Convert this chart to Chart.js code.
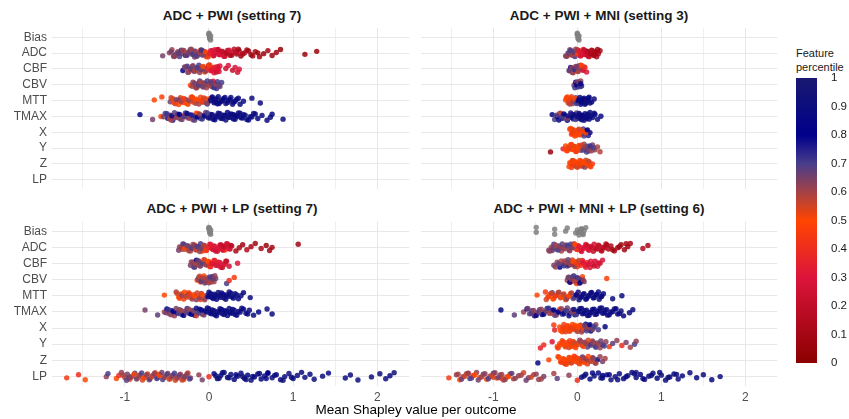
<!DOCTYPE html>
<html>
<head>
<meta charset="utf-8">
<script src="https://cdn.jsdelivr.net/npm/chart.js@4.4.1/dist/chart.umd.min.js"></script>
<style>
  body { margin: 0; background: #fff; font-family: "Liberation Sans", Arial, sans-serif; }
  #page { position: relative; width: 849px; height: 419px; overflow: hidden; }
  canvas { position: absolute; }
  .title { position: absolute; transform: translateX(-50%); white-space: nowrap; font-weight: bold; font-size: 13.5px; line-height: 15px; color: #1a1a1a; }
  .xlab { position: absolute; left: 416px; top: 402px; transform: translateX(-50%); white-space: nowrap; font-size: 13.5px; line-height: 16px; color: #000; }
  .legtitle { position: absolute; left: 796px; top: 46px; font-size: 11px; line-height: 14px; color: #1a1a1a; white-space: nowrap; }
</style>
</head>
<body>
<div id="page">
  <div class="title" id="t0" style="left:232px;top:8px"></div>
  <div class="title" id="t1" style="left:599px;top:8px"></div>
  <div class="title" id="t2" style="left:232px;top:201px"></div>
  <div class="title" id="t3" style="left:599px;top:201px"></div>
  <canvas id="p0" width="412" height="167" style="left:0;top:25px"></canvas>
  <canvas id="p1" width="362" height="167" style="left:418px;top:25px"></canvas>
  <canvas id="p2" width="412" height="187" style="left:0;top:219px"></canvas>
  <canvas id="p3" width="362" height="187" style="left:418px;top:219px"></canvas>
  <div class="xlab">Mean Shapley value per outcome</div>
  <div class="legtitle">Feature<br>percentile</div>
  <canvas id="bar" width="53" height="305" style="left:796px;top:70px"></canvas>
</div>
<script>
// rows (top to bottom) and panel titles
const features = ['Bias', 'ADC', 'CBF', 'CBV', 'MTT', 'TMAX', 'X', 'Y', 'Z', 'LP'];
const panelTitles = ['ADC + PWI (setting 7)', 'ADC + PWI + MNI (setting 3)',
  'ADC + PWI + LP (setting 7)', 'ADC + PWI + MNI + LP (setting 6)'];
const xTicks = [-1.5, -1, -0.5, 0, 0.5, 1, 1.5, 2];
const legendTicks = [0, 0.1, 0.2, 0.3, 0.4, 0.5, 0.6, 0.7, 0.8, 0.9, 1];

// points are [shapley value, feature percentile]; bias has no percentile

// --- ADC + PWI (setting 7)
const pwiBias = [0, 0.01, 0, 0.02, 0.01, 0, 0.01, 0.02];
const pwiADC = [[-0.55,.65],[-0.47,.62],[-0.44,.6],[-0.4,.68],[-0.37,.6],[-0.35,.7],[-0.32,.65],[-0.3,.62],[-0.28,.75],[-0.25,.6],[-0.22,.68],[-0.2,.62],[-0.18,.72],[-0.15,.6],[-0.12,.65],[-0.1,.55],[-0.08,.68],[-0.05,.6],[-0.03,.45],[0,.4],[0.02,.3],[0.05,.35],[0.08,.25],[0.1,.3],[0.12,.2],[0.15,.28],[0.18,.15],[0.2,.25],[0.22,.2],[0.25,.12],[0.28,.3],[0.3,.18],[0.33,.1],[0.36,.22],[0.38,.08],[0.42,.15],[0.45,.1],[0.5,.05],[0.55,.12],[0.6,.08],[0.65,.05],[0.7,.1],[0.75,.06],[0.8,.08],[0.85,.05],[1.14,.05],[1.28,.05],[-0.42,.7],[-0.38,.64],[-0.33,.72],[-0.27,.6],[-0.23,.7],[-0.17,.66],[-0.13,.74],[-0.07,.62],[-0.02,.58],[0.03,.42],[0.07,.32],[0.13,.28],
  [-0.45,.66],[-0.41,.62],[-0.36,.68],[-0.31,.6],[-0.26,.7],[-0.24,.64],[-0.21,.6],[-0.19,.7],[-0.16,.62],[-0.14,.68],[-0.11,.6],[-0.09,.72],[-0.06,.64],[-0.04,.5],[-0.01,.45],[0.01,.35],[0.04,.3],[0.06,.25],[0.09,.3],[0.11,.22],[0.14,.3],[0.16,.2],[0.19,.28],[0.21,.15],[0.24,.25],[0.27,.12],[0.32,.2],[0.35,.1],[0.4,.12],[0.47,.08],[0.52,.1],[0.58,.06]];
const pwiCBF = [[-0.31,.8],[-0.28,.62],[-0.25,.65],[-0.22,.7],[-0.2,.6],[-0.18,.68],[-0.15,.62],[-0.12,.7],[-0.1,.64],[-0.08,.6],[-0.05,.5],[-0.03,.66],[-0.01,.45],[0.02,.35],[0.04,.3],[0.06,.28],[0.08,.32],[0.1,.25],[0.12,.3],[0.2,.25],[0.23,.3],[0.28,.22],[0.31,.28],[0.34,.25],[0.36,.3],[-0.26,.72],[-0.16,.58],[-0.06,.7],[0,.55],[0.05,.4],
  [-0.29,.65],[-0.24,.6],[-0.21,.68],[-0.19,.64],[-0.17,.6],[-0.14,.7],[-0.11,.62],[-0.09,.66],[-0.07,.5],[-0.04,.62],[-0.02,.4],[0.01,.45],[0.03,.3],[0.07,.35],[0.09,.25],[0.11,.3],[0.13,.28]];
const pwiCBV = [[-0.22,.5],[-0.19,.62],[-0.16,.68],[-0.13,.6],[-0.11,.7],[-0.08,.62],[-0.06,.72],[-0.03,.6],[-0.01,.66],[0.02,.65],[0.04,.7],[0.07,.62],[0.09,.72],[0.12,.68],[0.15,.7],[-0.14,.55],[0,.58],[0.05,.3],
  [-0.2,.6],[-0.17,.65],[-0.15,.62],[-0.12,.7],[-0.1,.6],[-0.07,.66],[-0.05,.62],[-0.02,.7],[0.01,.6],[0.03,.68],[0.06,.72],[0.08,.62],[0.1,.7],[0.13,.66]];
const pwiMTT = [[-0.65,.5],[-0.56,.48],[-0.46,.65],[-0.43,.5],[-0.4,.6],[-0.37,.45],[-0.34,.55],[-0.31,.5],[-0.28,.62],[-0.25,.48],[-0.22,.55],[-0.19,.5],[-0.16,.6],[-0.13,.45],[-0.1,.52],[-0.07,.65],[-0.04,.5],[-0.02,.7],[0.01,.85],[0.03,.78],[0.06,.9],[0.08,.82],[0.11,.92],[0.14,.85],[0.17,.88],[0.2,.92],[0.23,.86],[0.26,.9],[0.29,.82],[0.33,.92],[0.37,.88],[0.41,.9],[0.51,.9],[0.61,.88],[-0.35,.62],[-0.2,.45],[-0.08,.55],[0,.5],[0.1,.8],[0.15,.95],
  [-0.45,.55],[-0.42,.48],[-0.39,.65],[-0.36,.5],[-0.33,.6],[-0.3,.45],[-0.27,.5],[-0.24,.62],[-0.21,.48],[-0.18,.55],[-0.15,.5],[-0.12,.6],[-0.09,.48],[-0.06,.55],[-0.03,.62],[0.02,.9],[0.04,.85],[0.07,.88],[0.09,.92],[0.12,.86],[0.16,.9],[0.19,.85],[0.22,.9],[0.25,.88],[0.28,.92],[0.31,.86],[0.35,.9]];
const pwiTMAX = [[-0.82,.85],[-0.67,.65],[-0.57,.5],[-0.52,.7],[-0.49,.82],[-0.46,.65],[-0.43,.75],[-0.4,.6],[-0.37,.8],[-0.34,.68],[-0.31,.55],[-0.28,.72],[-0.25,.62],[-0.22,.8],[-0.19,.66],[-0.16,.75],[-0.13,.6],[-0.1,.7],[-0.07,.82],[-0.04,.65],[-0.01,.88],[0.02,.9],[0.05,.85],[0.08,.92],[0.11,.88],[0.14,.9],[0.17,.86],[0.2,.92],[0.23,.88],[0.26,.9],[0.29,.85],[0.32,.92],[0.35,.88],[0.38,.9],[0.41,.86],[0.45,.9],[0.49,.88],[0.53,.92],[0.58,.85],[0.63,.9],[0.69,.88],[0.73,.9],[0.75,.85],[0.88,.88],[-0.3,.45],[-0.15,.5],[0,.7],[0.3,.95],[-0.45,.6],
  [-0.54,.65],[-0.5,.72],[-0.47,.6],[-0.44,.85],[-0.41,.68],[-0.38,.62],[-0.35,.8],[-0.32,.65],[-0.29,.7],[-0.26,.85],[-0.23,.62],[-0.2,.75],[-0.17,.68],[-0.14,.85],[-0.11,.62],[-0.08,.72],[-0.05,.88],[-0.02,.7],[0.01,.9],[0.04,.88],[0.07,.85],[0.1,.9],[0.13,.92],[0.16,.88],[0.19,.9],[0.22,.85],[0.25,.9],[0.28,.88],[0.31,.9],[0.34,.86],[0.37,.92],[0.4,.88],[0.43,.9],[0.47,.86],[0.51,.9],[0.55,.88]];

// --- ADC + PWI + MNI (setting 3)
const mniBias = [0, 0.01, 0, 0.02, 0.01, 0, 0.01, 0.02];
const mniADC = [[-0.14,.65],[-0.11,.7],[-0.09,.6],[-0.07,.68],[-0.05,.62],[-0.03,.72],[-0.01,.6],[0.01,.35],[0.03,.3],[0.05,.25],[0.07,.35],[0.09,.2],[0.11,.3],[0.13,.15],[0.15,.25],[0.17,.1],[0.19,.2],[0.21,.08],[0.23,.15],[0.25,.1],[0.27,.12],[-0.12,.6],[-0.04,.66],[0,.55],[0.06,.32],[0.12,.1],
  [-0.13,.62],[-0.1,.66],[-0.08,.7],[-0.06,.6],[-0.04,.68],[-0.02,.62],[0,.45],[0.02,.32],[0.04,.28],[0.06,.3],[0.08,.22],[0.1,.25],[0.12,.18],[0.14,.2],[0.16,.12],[0.18,.15],[0.2,.1],[0.22,.12],[0.24,.08]];
const mniCBF = [[-0.1,.65],[-0.08,.8],[-0.06,.62],[-0.04,.7],[-0.02,.6],[0,.5],[0.02,.68],[0.04,.3],[0.06,.6],[0.08,.35],[0.11,.3],[-0.05,.75],[0.01,.62],
  [-0.09,.68],[-0.07,.62],[-0.05,.6],[-0.03,.72],[-0.01,.65],[0.01,.6],[0.03,.62],[0.05,.5],[0.07,.3],[0.09,.4]];
const mniCBV = [[-0.04,.65],[-0.02,.8],[0,.7],[0.02,.85],[0.04,.62],[0.05,.75],[-0.01,.6],
  [-0.03,.7],[-0.01,.8],[0.01,.65],[0.03,.72],[0.04,.85]];
const mniMTT = [[-0.14,.5],[-0.12,.45],[-0.1,.55],[-0.08,.5],[-0.06,.6],[-0.04,.48],[-0.02,.65],[0,.8],[0.02,.88],[0.04,.85],[0.06,.9],[0.08,.86],[0.1,.92],[0.12,.88],[0.14,.9],[0.17,.85],[0.2,.9],[-0.09,.62],[0.03,.95],
  [-0.13,.5],[-0.11,.55],[-0.09,.45],[-0.07,.52],[-0.05,.62],[-0.03,.5],[-0.01,.7],[0.01,.85],[0.03,.9],[0.05,.88],[0.07,.85],[0.09,.9],[0.11,.92],[0.13,.86],[0.15,.9]];
const mniTMAX = [[-0.3,.85],[-0.27,.7],[-0.24,.8],[-0.21,.65],[-0.18,.88],[-0.15,.7],[-0.12,.82],[-0.09,.6],[-0.07,.9],[-0.05,.72],[-0.03,.85],[-0.01,.68],[0.01,.9],[0.03,.85],[0.05,.92],[0.07,.88],[0.09,.9],[0.11,.85],[0.13,.92],[0.15,.88],[0.18,.9],[0.21,.85],[0.24,.9],[0.28,.88],[-0.2,.55],[0,.8],
  [-0.25,.68],[-0.22,.85],[-0.19,.7],[-0.16,.82],[-0.13,.65],[-0.11,.9],[-0.08,.75],[-0.06,.85],[-0.04,.9],[-0.02,.7],[0,.92],[0.02,.88],[0.04,.9],[0.06,.85],[0.08,.92],[0.1,.88],[0.12,.9],[0.14,.86],[0.16,.9],[0.2,.88]];
const mniX = [[-0.09,.5],[-0.07,.48],[-0.05,.52],[-0.03,.5],[-0.01,.45],[0.01,.5],[0.03,.55],[0.05,.65],[0.07,.7],[0.09,.62],[0.11,.8],[0.13,.75],[0.15,.85],[-0.06,.55],[0,.52],[0.04,.48],
  [-0.08,.5],[-0.06,.45],[-0.04,.52],[-0.02,.5],[0,.48],[0.02,.55],[0.04,.5],[0.06,.52],[0.08,.7],[0.1,.5],[0.12,.85]];
const mniY = [[-0.32,.05],[-0.17,.35],[-0.14,.5],[-0.12,.48],[-0.1,.52],[-0.08,.5],[-0.06,.45],[-0.04,.55],[-0.02,.5],[0,.6],[0.02,.52],[0.04,.65],[0.06,.7],[0.08,.62],[0.1,.75],[0.12,.68],[0.14,.6],[0.16,.7],[0.18,.65],[0.21,.62],[0.24,.6],[0.27,.58],[-0.09,.4],[0.03,.48],
  [-0.13,.5],[-0.11,.52],[-0.07,.48],[-0.05,.5],[-0.03,.52],[-0.01,.45],[0.01,.5],[0.05,.55],[0.07,.68],[0.09,.62],[0.11,.7],[0.13,.65],[0.15,.72],[0.17,.6],[0.19,.7]];
const mniZ = [[-0.1,.5],[-0.08,.45],[-0.06,.52],[-0.04,.5],[-0.02,.48],[0,.55],[0.02,.85],[0.04,.5],[0.06,.62],[0.08,.5],[0.1,.55],[0.12,.48],[0.14,.6],[0.16,.5],[0.18,.45],[-0.05,.55],[0.03,.4],
  [-0.09,.5],[-0.07,.52],[-0.05,.45],[-0.03,.5],[-0.01,.55],[0.01,.5],[0.03,.48],[0.05,.52],[0.07,.5],[0.09,.62],[0.11,.5],[0.13,.55],[0.15,.48]];

// --- ADC + PWI + LP (setting 7)
const lpBias = [0, 0.01, 0, 0.02, 0.01, 0, 0.01, 0.02];
const lpADC = [[-0.36,.65],[-0.33,.5],[-0.3,.7],[-0.28,.62],[-0.25,.68],[-0.22,.6],[-0.2,.72],[-0.17,.5],[-0.15,.65],[-0.12,.6],[-0.1,.7],[-0.07,.62],[-0.05,.55],[-0.03,.4],[0,.35],[0.02,.3],[0.05,.28],[0.07,.35],[0.1,.25],[0.12,.3],[0.15,.2],[0.17,.28],[0.2,.22],[0.22,.3],[0.25,.15],[0.27,.2],[0.32,.1],[0.36,.12],[0.4,.08],[0.45,.15],[0.5,.1],[0.55,.08],[0.62,.12],[0.68,.05],[0.72,.1],[0.75,.08],[1.06,.08],[-0.32,.62],[-0.18,.7],[-0.08,.5],[0.03,.38],[0.13,.33],[0.19,.5],
  [-0.35,.62],[-0.31,.68],[-0.29,.5],[-0.26,.65],[-0.24,.6],[-0.21,.68],[-0.19,.62],[-0.16,.55],[-0.14,.7],[-0.11,.62],[-0.09,.66],[-0.06,.6],[-0.04,.45],[-0.01,.38],[0.01,.32],[0.04,.28],[0.06,.3],[0.08,.25],[0.11,.3],[0.14,.22],[0.16,.28],[0.18,.2],[0.21,.25],[0.23,.3],[0.26,.18]];
const lpCBF = [[-0.22,.65],[-0.19,.6],[-0.17,.7],[-0.14,.62],[-0.12,.55],[-0.1,.68],[-0.07,.6],[-0.05,.5],[-0.03,.65],[0,.45],[0.02,.35],[0.05,.3],[0.07,.4],[0.1,.28],[0.13,.3],[0.16,.22],[0.19,.3],[0.21,.2],[0.24,.25],[0.34,.3],[-0.15,.8],[-0.02,.5],
  [-0.21,.62],[-0.18,.68],[-0.16,.6],[-0.13,.66],[-0.11,.62],[-0.08,.7],[-0.06,.55],[-0.04,.62],[-0.01,.5],[0.01,.4],[0.03,.3],[0.06,.35],[0.08,.28],[0.11,.32],[0.14,.25],[0.17,.3],[0.2,.22]];
const lpCBV = [[-0.14,.5],[-0.12,.65],[-0.1,.55],[-0.08,.62],[-0.06,.5],[-0.04,.7],[-0.02,.6],[0,.68],[0.02,.62],[0.04,.75],[0.06,.6],[0.08,.65],[0.21,.7],[0.24,.4],[0.3,.45],[-0.03,.45],
  [-0.13,.62],[-0.11,.55],[-0.09,.7],[-0.07,.6],[-0.05,.65],[-0.01,.62],[0.01,.7],[0.03,.6],[0.05,.68],[0.07,.62]];
const lpMTT = [[-0.53,.5],[-0.39,.6],[-0.36,.5],[-0.33,.55],[-0.3,.45],[-0.27,.62],[-0.24,.5],[-0.21,.55],[-0.18,.48],[-0.15,.65],[-0.12,.5],[-0.09,.6],[-0.06,.5],[-0.03,.7],[0,.85],[0.03,.88],[0.06,.9],[0.09,.85],[0.12,.92],[0.15,.88],[0.18,.9],[0.21,.85],[0.24,.92],[0.27,.88],[0.31,.9],[0.35,.86],[0.38,.9],[0.41,.85],[0.49,.88],[-0.25,.7],[-0.1,.45],[0.1,.75],
  [-0.38,.55],[-0.35,.48],[-0.32,.62],[-0.29,.5],[-0.26,.55],[-0.23,.45],[-0.2,.6],[-0.17,.5],[-0.14,.55],[-0.11,.62],[-0.08,.5],[-0.05,.62],[-0.01,.8],[0.02,.9],[0.05,.85],[0.08,.9],[0.11,.88],[0.14,.92],[0.17,.85],[0.2,.9],[0.23,.88],[0.26,.9],[0.29,.86],[0.33,.9]];
const lpTMAX = [[-0.76,.65],[-0.61,.68],[-0.53,.6],[-0.5,.8],[-0.47,.65],[-0.44,.85],[-0.41,.62],[-0.38,.75],[-0.35,.68],[-0.32,.85],[-0.29,.6],[-0.26,.72],[-0.23,.85],[-0.2,.65],[-0.17,.8],[-0.14,.7],[-0.11,.88],[-0.08,.62],[-0.05,.85],[-0.02,.9],[0.01,.88],[0.04,.92],[0.07,.85],[0.1,.9],[0.13,.88],[0.16,.92],[0.19,.86],[0.22,.9],[0.25,.88],[0.28,.85],[0.31,.9],[0.35,.88],[0.39,.9],[0.44,.85],[0.48,.9],[0.53,.88],[0.59,.85],[0.69,.9],[0.75,.88],[-0.35,.5],[-0.15,.55],
  [-0.51,.65],[-0.48,.72],[-0.45,.62],[-0.42,.8],[-0.39,.65],[-0.36,.7],[-0.33,.62],[-0.3,.85],[-0.27,.68],[-0.24,.62],[-0.21,.8],[-0.18,.65],[-0.15,.88],[-0.12,.7],[-0.09,.85],[-0.06,.65],[-0.03,.88],[0,.9],[0.03,.85],[0.06,.9],[0.09,.88],[0.12,.92],[0.15,.86],[0.18,.9],[0.21,.88],[0.24,.9],[0.27,.86],[0.3,.92],[0.33,.88],[0.37,.9],[0.41,.86],[0.46,.9]];
const lpLP = [[-1.69,.45],[-1.55,.4],[-1.47,.5],[-1.22,.62],[-1.2,.7],[-1.1,.5],[-1.07,.4],[-1.04,.62],[-1,.55],[-0.97,.65],[-0.94,.45],[-0.91,.6],[-0.88,.68],[-0.85,.5],[-0.82,.62],[-0.79,.55],[-0.76,.66],[-0.73,.48],[-0.7,.62],[-0.67,.7],[-0.64,.55],[-0.61,.65],[-0.58,.6],[-0.55,.7],[-0.52,.5],[-0.49,.65],[-0.46,.6],[-0.43,.68],[-0.4,.55],[-0.37,.65],[-0.34,.6],[-0.31,.7],[-0.28,.62],[-0.25,.55],[-0.22,.65],[-0.12,.62],[-0.08,.65],[0,.4],[0.06,.88],[0.1,.9],[0.14,.85],[0.18,.92],[0.22,.88],[0.26,.9],[0.3,.86],[0.34,.92],[0.38,.88],[0.42,.9],[0.46,.85],[0.5,.92],[0.54,.88],[0.58,.9],[0.62,.86],[0.66,.9],[0.7,.88],[0.75,.92],[0.8,.85],[0.85,.9],[0.9,.88],[0.95,.92],[1,.86],[1.05,.9],[1.1,.88],[1.14,.9],[1.2,.88],[1.25,.92],[1.35,.9],[1.42,.86],[1.62,.9],[1.68,.88],[1.77,.92],[1.93,.9],[2.03,.88],[2.1,.9],[2.15,.86],[2.2,.92],[-0.95,.7],[-0.6,.45],[-0.3,.5],[0.4,.95],[0.7,.8],[0.12,.95],
  [-1.02,.6],[-0.98,.68],[-0.93,.62],[-0.89,.5],[-0.86,.66],[-0.83,.6],[-0.8,.7],[-0.77,.5],[-0.74,.62],[-0.71,.68],[-0.68,.55],[-0.65,.62],[-0.62,.7],[-0.59,.5],[-0.56,.65],[-0.53,.62],[-0.5,.68],[-0.47,.55],[-0.44,.62],[-0.41,.7],[-0.38,.6],[-0.35,.66],[-0.32,.55],[-0.29,.65],[-0.26,.62],[-0.23,.7],[0.08,.9],[0.16,.88],[0.24,.92],[0.32,.86],[0.44,.9],[0.52,.88],[0.6,.92],[0.68,.86],[0.78,.9],[0.88,.92],[0.98,.88]];

// --- ADC + PWI + MNI + LP (setting 6)
const allBias = [-0.49, -0.49, -0.27, -0.27, -0.14, -0.12, -0.02, 0, 0.02, 0.03, 0.05, 0.06, 0.08, 0.1, 0.01, 0.04, 0.07];
const allADC = [[-0.34,.65],[-0.31,.6],[-0.28,.7],[-0.25,.62],[-0.22,.68],[-0.19,.6],[-0.16,.72],[-0.13,.62],[-0.1,.66],[-0.07,.6],[-0.04,.55],[-0.02,.45],[0.01,.35],[0.04,.3],[0.07,.28],[0.1,.32],[0.13,.25],[0.16,.3],[0.19,.2],[0.22,.25],[0.25,.15],[0.28,.22],[0.31,.12],[0.34,.2],[0.37,.1],[0.4,.15],[0.44,.08],[0.48,.12],[0.52,.05],[0.56,.1],[0.6,.08],[0.63,.12],[0.78,.15],[0.84,.1],[-0.3,.68],[-0.2,.64],[-0.08,.7],[0,.5],[0.12,.35],
  [-0.33,.62],[-0.29,.66],[-0.26,.6],[-0.23,.7],[-0.21,.62],[-0.18,.68],[-0.15,.6],[-0.12,.7],[-0.09,.62],[-0.06,.66],[-0.03,.5],[0,.4],[0.02,.32],[0.05,.28],[0.08,.3],[0.11,.25],[0.14,.3],[0.17,.2],[0.2,.25],[0.23,.18],[0.26,.22],[0.29,.15],[0.32,.18],[0.35,.12],[0.42,.1],[0.5,.08],[0.58,.1]];
const allCBF = [[-0.28,.65],[-0.24,.62],[-0.21,.8],[-0.18,.68],[-0.15,.6],[-0.12,.7],[-0.09,.62],[-0.06,.55],[-0.04,.85],[-0.02,.5],[0,.45],[0.03,.5],[0.06,.35],[0.09,.3],[0.12,.4],[0.15,.28],[0.18,.3],[0.21,.25],[0.24,.3],[0.27,.22],[0.3,.28],[-0.1,.75],[0.01,.62],
  [-0.26,.62],[-0.22,.68],[-0.19,.6],[-0.16,.72],[-0.13,.62],[-0.11,.66],[-0.08,.6],[-0.05,.5],[-0.03,.62],[-0.01,.45],[0.02,.55],[0.04,.4],[0.07,.3],[0.1,.35],[0.13,.28],[0.16,.3],[0.2,.22],[0.25,.28]];
const allCBV = [[-0.12,.62],[-0.1,.7],[-0.08,.55],[-0.06,.85],[-0.04,.65],[-0.02,.5],[0,.8],[0.02,.6],[0.04,.72],[0.06,.5],[0.08,.65],[0.35,.48],[-0.01,.45],[0.05,.85],
  [-0.11,.65],[-0.09,.8],[-0.07,.62],[-0.05,.7],[-0.03,.6],[0.01,.68],[0.03,.85],[0.07,.62]];
const allMTT = [[-0.48,.5],[-0.38,.45],[-0.35,.5],[-0.32,.55],[-0.29,.48],[-0.26,.62],[-0.23,.5],[-0.2,.55],[-0.17,.68],[-0.14,.5],[-0.11,.6],[-0.08,.5],[-0.05,.65],[-0.02,.8],[0.01,.85],[0.04,.9],[0.07,.86],[0.1,.92],[0.13,.88],[0.16,.9],[0.19,.85],[0.22,.92],[0.25,.88],[0.28,.9],[0.31,.86],[0.42,.88],[0.53,.9],[-0.3,.68],[-0.12,.45],[0,.6],
  [-0.37,.55],[-0.34,.48],[-0.31,.55],[-0.28,.5],[-0.25,.45],[-0.22,.6],[-0.19,.5],[-0.16,.55],[-0.13,.62],[-0.1,.5],[-0.07,.6],[-0.04,.7],[-0.01,.85],[0.02,.9],[0.05,.88],[0.08,.92],[0.11,.86],[0.14,.9],[0.17,.88],[0.2,.9],[0.23,.86],[0.26,.92],[0.29,.88]];
const allTMAX = [[-0.91,.85],[-0.75,.68],[-0.64,.62],[-0.6,.8],[-0.57,.65],[-0.54,.72],[-0.51,.85],[-0.48,.62],[-0.45,.7],[-0.42,.88],[-0.39,.65],[-0.36,.75],[-0.33,.6],[-0.3,.82],[-0.27,.68],[-0.24,.85],[-0.21,.5],[-0.18,.72],[-0.15,.85],[-0.12,.65],[-0.09,.9],[-0.06,.7],[-0.03,.88],[0,.9],[0.03,.85],[0.06,.92],[0.09,.88],[0.12,.9],[0.15,.86],[0.18,.92],[0.21,.88],[0.24,.9],[0.27,.85],[0.3,.9],[0.33,.88],[0.36,.92],[0.4,.86],[0.44,.9],[0.48,.88],[0.52,.92],[0.55,.85],[0.62,.9],[0.66,.88],[-0.5,.45],[-0.05,.5],
  [-0.59,.65],[-0.55,.7],[-0.52,.62],[-0.49,.8],[-0.46,.68],[-0.43,.62],[-0.4,.85],[-0.37,.65],[-0.34,.72],[-0.31,.6],[-0.28,.85],[-0.25,.66],[-0.22,.8],[-0.19,.62],[-0.16,.88],[-0.13,.7],[-0.1,.85],[-0.07,.65],[-0.04,.9],[-0.01,.7],[0.02,.88],[0.05,.9],[0.08,.86],[0.11,.92],[0.14,.88],[0.17,.9],[0.2,.85],[0.23,.9],[0.26,.88],[0.29,.92],[0.32,.86],[0.35,.9],[0.38,.88],[0.42,.9],[0.46,.86],[0.5,.9]];
const allX = [[-0.28,.45],[-0.27,.35],[-0.21,.5],[-0.18,.48],[-0.15,.52],[-0.12,.5],[-0.1,.45],[-0.08,.55],[-0.06,.5],[-0.04,.52],[-0.02,.48],[0,.6],[0.02,.55],[0.04,.65],[0.06,.7],[0.08,.62],[0.1,.85],[0.12,.7],[0.14,.65],[0.16,.88],[0.19,.68],[0.22,.62],[0.25,.7],[0.33,.85],[-0.14,.55],[-0.05,.48],[0.03,.5],
  [-0.2,.5],[-0.17,.45],[-0.16,.52],[-0.13,.5],[-0.11,.48],[-0.09,.52],[-0.07,.45],[-0.03,.5],[-0.01,.55],[0.01,.5],[0.05,.6],[0.07,.52],[0.09,.66],[0.11,.7],[0.13,.62],[0.15,.8],[0.18,.65],[0.2,.7]];
const allY = [[-0.44,.35],[-0.4,.4],[-0.3,.3],[-0.24,.5],[-0.21,.48],[-0.18,.52],[-0.15,.5],[-0.12,.45],[-0.1,.55],[-0.08,.5],[-0.05,.48],[-0.03,.52],[0,.6],[0.03,.65],[0.06,.62],[0.09,.7],[0.12,.68],[0.15,.75],[0.18,.62],[0.21,.7],[0.24,.66],[0.27,.6],[0.3,.72],[0.34,.62],[0.38,.45],[0.42,.68],[0.47,.62],[0.53,.4],[0.58,.65],[0.63,.6],[0.68,.7],[0.7,.62],[-0.07,.4],[0.1,.5],
  [-0.23,.45],[-0.2,.5],[-0.17,.48],[-0.14,.52],[-0.11,.5],[-0.09,.45],[-0.06,.5],[-0.04,.55],[-0.02,.5],[0.01,.52],[0.04,.6],[0.07,.5],[0.1,.62],[0.13,.55],[0.16,.68],[0.19,.62],[0.22,.7],[0.25,.6],[0.28,.66],[0.32,.7]];
const allZ = [[-0.47,.85],[-0.34,.5],[-0.23,.48],[-0.2,.5],[-0.17,.52],[-0.14,.45],[-0.12,.5],[-0.1,.55],[-0.08,.5],[-0.06,.48],[-0.04,.5],[-0.02,.55],[0,.5],[0.02,.62],[0.04,.52],[0.06,.7],[0.08,.5],[0.1,.65],[0.12,.55],[0.15,.62],[0.18,.68],[0.21,.6],[0.24,.85],[0.27,.62],[0.3,.65],[0.33,.6],[-0.15,.42],[0.05,.5],
  [-0.22,.5],[-0.19,.45],[-0.16,.5],[-0.13,.52],[-0.11,.48],[-0.09,.5],[-0.07,.55],[-0.05,.5],[-0.03,.45],[-0.01,.5],[0.01,.52],[0.03,.5],[0.05,.55],[0.07,.6],[0.09,.5],[0.11,.62],[0.13,.5],[0.16,.55],[0.19,.62],[0.22,.6]];
const allLP = [[-1.53,.45],[-1.44,.62],[-1.4,.5],[-1.36,.65],[-1.32,.6],[-1.28,.7],[-1.24,.45],[-1.2,.62],[-1.16,.55],[-1.12,.68],[-1.08,.5],[-1.04,.62],[-1,.7],[-0.96,.5],[-0.92,.65],[-0.88,.6],[-0.84,.55],[-0.8,.65],[-0.76,.6],[-0.7,.62],[-0.64,.55],[-0.58,.66],[-0.52,.6],[-0.46,.62],[-0.4,.65],[-0.28,.6],[-0.24,.68],[-0.1,.62],[0,.4],[0.05,.88],[0.1,.9],[0.15,.85],[0.2,.92],[0.25,.88],[0.3,.9],[0.35,.86],[0.4,.92],[0.45,.88],[0.5,.9],[0.55,.85],[0.6,.92],[0.65,.88],[0.7,.9],[0.75,.86],[0.8,.92],[0.85,.88],[0.9,.9],[0.95,.85],[1,.92],[1.05,.88],[1.1,.9],[1.15,.86],[1.2,.9],[1.25,.88],[1.34,.9],[1.42,.88],[1.5,.9],[1.6,.86],[1.7,.9],[-1.3,.4],[-0.9,.45],[0.3,.8],[0.7,.75],[-1,.55],
  [-1.42,.6],[-1.38,.66],[-1.34,.55],[-1.3,.62],[-1.26,.68],[-1.22,.5],[-1.18,.65],[-1.14,.6],[-1.1,.62],[-1.06,.7],[-1.02,.55],[-0.98,.62],[-0.94,.66],[-0.9,.6],[-0.86,.62],[-0.82,.5],[-0.78,.68],[-0.74,.62],[-0.67,.6],[-0.61,.66],[-0.55,.55],[-0.49,.62],[-0.43,.6],[0.08,.9],[0.18,.88],[0.28,.92],[0.38,.86],[0.48,.9],[0.58,.88],[0.68,.92],[0.78,.86],[0.88,.9],[0.98,.88],[1.08,.92],[1.18,.9]];

const panels = [
  { Bias: pwiBias, ADC: pwiADC, CBF: pwiCBF, CBV: pwiCBV, MTT: pwiMTT, TMAX: pwiTMAX },
  { Bias: mniBias, ADC: mniADC, CBF: mniCBF, CBV: mniCBV, MTT: mniMTT, TMAX: mniTMAX, X: mniX, Y: mniY, Z: mniZ },
  { Bias: lpBias, ADC: lpADC, CBF: lpCBF, CBV: lpCBV, MTT: lpMTT, TMAX: lpTMAX, LP: lpLP },
  { Bias: allBias, ADC: allADC, CBF: allCBF, CBV: allCBV, MTT: allMTT, TMAX: allTMAX, X: allX, Y: allY, Z: allZ, LP: allLP }
];

// colour scale of the feature percentile
const stops = [0, 0.3, 0.5, 0.7, 0.8, 1];
const stopColors = [[139, 0, 0], [220, 20, 60], [255, 69, 0], [72, 61, 139], [0, 0, 139], [25, 25, 112]];
function colorFor(p, alpha = 0.85) {
  if (p == null) return 'rgba(128,128,128,' + alpha + ')';
  let k = 0;
  while (k < stops.length - 2 && p > stops[k + 1]) k++;
  const t = Math.min(1, Math.max(0, (p - stops[k]) / (stops[k + 1] - stops[k])));
  const a = stopColors[k], b = stopColors[k + 1];
  const c = a.map((v, j) => Math.round(v + (b[j] - v) * t));
  return `rgba(${c[0]},${c[1]},${c[2]},${alpha})`;
}

// vertical jitter inside a row (spread only, not data)
const jitter = i => (((i * 0.618034) % 1) - 0.5) * 0.5;

const font = { family: '"Liberation Sans", Arial, sans-serif', size: 12 };
const xMin = -1.865, xMax = 2.38;

function makePanel(idx, showY, showX) {
  document.getElementById('t' + idx).textContent = panelTitles[idx];
  const rows = panels[idx];
  const points = [];
  features.forEach((f, r) => {
    (rows[f] || []).forEach((pt, i) => {
      const isPair = Array.isArray(pt);
      points.push({ x: isPair ? pt[0] : pt, y: r + jitter(i + r * 3), p: isPair ? pt[1] : null });
    });
  });
  new Chart(document.getElementById('p' + idx), {
    type: 'scatter',
    data: {
      datasets: [{
        data: points,
        pointRadius: 2.7,
        pointHoverRadius: 2.7,
        borderWidth: 0,
        backgroundColor: c => colorFor(c.raw ? c.raw.p : null)
      }]
    },
    options: {
      responsive: false,
      animation: false,
      devicePixelRatio: 1,
      events: [],
      layout: { padding: 0 },
      plugins: { legend: { display: false }, tooltip: { enabled: false } },
      scales: {
        x: {
          type: 'linear', min: xMin, max: xMax,
          afterBuildTicks: s => { s.ticks = xTicks.map(v => ({ value: v })); },
          afterFit: s => { s.height = showX ? 20 : 0; s.paddingLeft = 0; s.paddingRight = 0; },
          border: { display: false },
          grid: { drawTicks: false, lineWidth: 1, color: c => Number.isInteger(c.tick.value) ? '#e6e6e6' : '#efefef' },
          ticks: { display: showX, autoSkip: false, maxRotation: 0, padding: 4, color: '#4d4d4d', font, callback: v => Number.isInteger(v) ? String(v) : '' }
        },
        y: {
          type: 'linear', reverse: true, min: -0.6, max: features.length - 0.4,
          afterBuildTicks: s => { s.ticks = features.map((f, i) => ({ value: i })); },
          afterFit: s => { s.width = showY ? 52 : 0; s.paddingTop = 0; s.paddingBottom = 0; },
          border: { display: false },
          grid: { drawTicks: false, lineWidth: 1, color: '#e8e8e8' },
          ticks: { display: showY, autoSkip: false, padding: 5, color: '#4d4d4d', font, callback: v => features[v] }
        }
      }
    }
  });
}

makePanel(0, true, false);
makePanel(1, false, false);
makePanel(2, true, true);
makePanel(3, false, true);

// colour bar legend
new Chart(document.getElementById('bar'), {
  type: 'bar',
  data: {
    labels: [''],
    datasets: [{
      data: [[0, 1]],
      barPercentage: 1,
      categoryPercentage: 1,
      borderWidth: 0,
      backgroundColor: c => {
        const chart = c.chart, area = chart.chartArea;
        if (!area) return colorFor(0.5, 1);
        const g = chart.ctx.createLinearGradient(0, area.bottom, 0, area.top);
        for (let i = 0; i <= 50; i++) g.addColorStop(i / 50, colorFor(i / 50, 1));
        return g;
      }
    }]
  },
  options: {
    responsive: false,
    animation: false,
    devicePixelRatio: 1,
    events: [],
    layout: { padding: { top: 8, bottom: 12, left: 0, right: 0 } },
    plugins: { legend: { display: false }, tooltip: { enabled: false } },
    scales: {
      x: { display: false },
      y: {
        position: 'right', min: 0, max: 1,
        afterBuildTicks: s => { s.ticks = legendTicks.map(v => ({ value: v })); },
        afterFit: s => { s.width = 32; s.paddingTop = 0; s.paddingBottom = 0; },
        border: { display: false },
        grid: { display: false },
        ticks: { autoSkip: false, padding: 6, color: '#1a1a1a', font: { family: font.family, size: 11.5 }, callback: v => String(+v.toFixed(1)) }
      }
    }
  }
});
</script>
</body>
</html>
